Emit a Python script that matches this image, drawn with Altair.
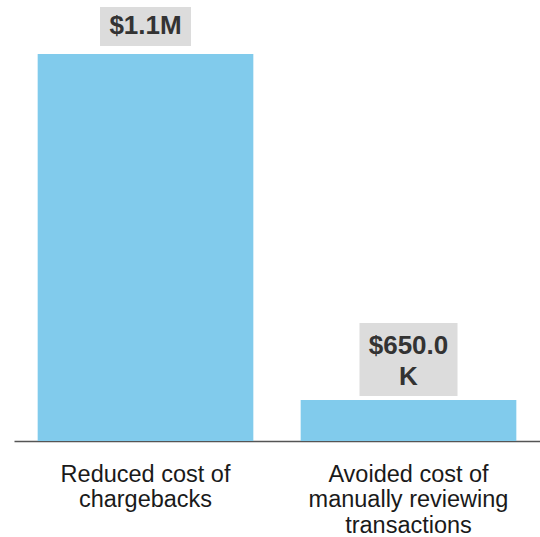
import altair as alt
import pandas as pd

categories = ["Reduced cost of|chargebacks", "Avoided cost of|manually reviewing|transactions"]
values = [1100000, 650000]
value_labels = ["$1.1M", "$650.0\nK"]

df = pd.DataFrame({"cat": categories, "value": values, "label": value_labels})

BAR = "#81CBEC"
BOX = "#DCDCDC"
# box shapes (style): unit = 100 px with size 40000, relative to bar top
box_paths = [
    "M-0.455,-0.47H0.455V-0.08H-0.455Z",
    "M-0.49,-0.77H0.49V-0.04H-0.49Z",
]
text_dy = [-27.5, -54.5]

x = alt.X("cat:N", sort=categories, title=None,
          scale=alt.Scale(paddingInner=0.18, paddingOuter=0.09),
          axis=alt.Axis(labelAngle=0, ticks=False, domainColor="#555555", domainWidth=1.5,
                        labelFont="Liberation Sans", labelFontSize=23.5, labelColor="#1a1a1a",
                        labelLineHeight=25.5, labelPadding=21, labelBaseline="top",
                        labelLimit=0, labelOverlap=False,
                        labelExpr="split(datum.label, '|')"))
y = alt.Y("value:Q", title=None,
          scale=alt.Scale(domain=[596700, 1170200], zero=False, nice=False),
          axis=None)

bars = alt.Chart(df).mark_bar(color=BAR, clip=True).encode(x=x, y=y)

layers = [bars]
for i, c in enumerate(categories):
    base = alt.Chart(df).transform_filter(alt.datum.cat == c)
    layers.append(base.mark_point(shape=box_paths[i], size=40000, filled=True,
                                  color=BOX, opacity=1, strokeWidth=0).encode(x=x, y=y))
    layers.append(base.mark_text(font="Liberation Sans", fontSize=26, fontWeight="bold",
                                 color="#333333", baseline="middle", dy=text_dy[i],
                                 lineBreak="\n", lineHeight=31).encode(x=x, y=y, text="label:N"))

chart = alt.layer(*layers).properties(
    width=526, height=441,
    autosize=alt.AutoSizeParams(type="none"),
    padding={"left": 14, "top": 0, "right": 0, "bottom": 96},
).configure_view(stroke=None)

chart.save("out.html", embed_options={"renderer": "svg", "actions": False})
